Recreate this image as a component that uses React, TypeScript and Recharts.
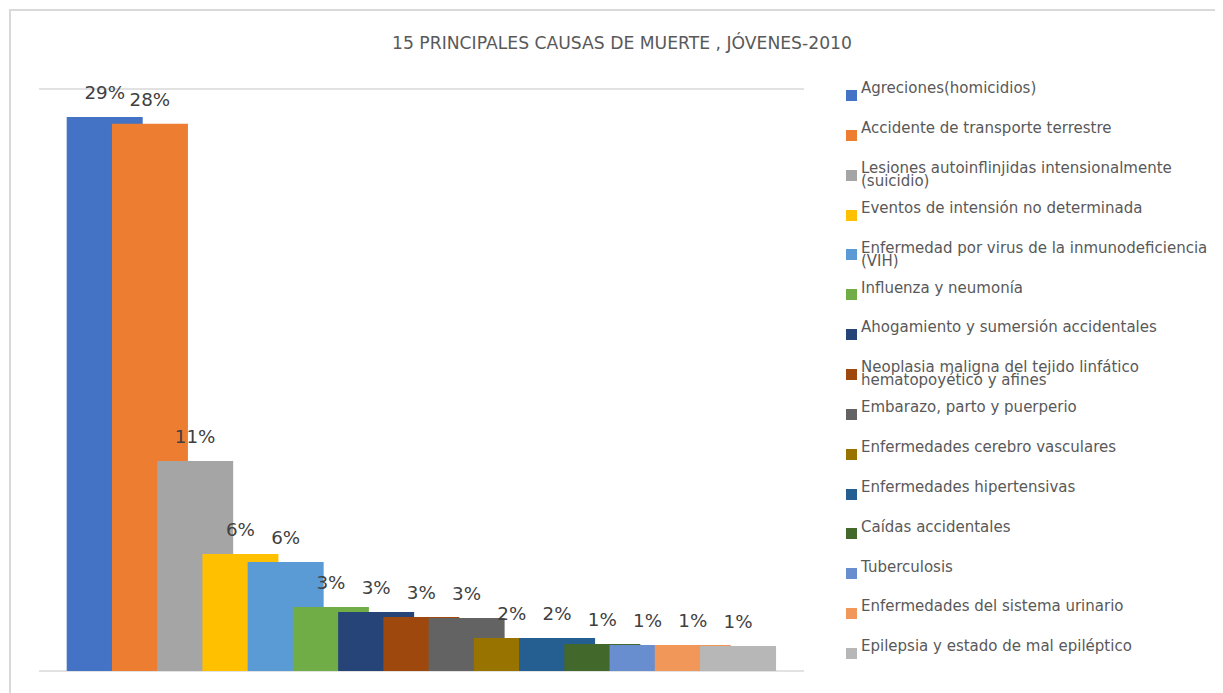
import React from 'react';
import { BarChart, Bar, XAxis, YAxis, CartesianGrid, LabelList, Legend } from 'recharts';

const causes: string[] = [
  'Agreciones(homicidios)',
  'Accidente de transporte terrestre',
  'Lesiones autoinflinjidas intensionalmente (suicidio)',
  'Eventos de intensión no determinada',
  'Enfermedad por virus de la inmunodeficiencia (VIH)',
  'Influenza y neumonía',
  'Ahogamiento y sumersión accidentales',
  'Neoplasia maligna del tejido linfático hematopoyético y afines',
  'Embarazo, parto y puerperio',
  'Enfermedades cerebro vasculares',
  'Enfermedades hipertensivas',
  'Caídas accidentales',
  'Tuberculosis',
  'Enfermedades del sistema urinario',
  'Epilepsia y estado de mal epiléptico',
];

const percentages: number[] = [28.56, 28.21, 10.82, 6.03, 5.62, 3.3, 3.04, 2.78, 2.73, 1.7, 1.7, 1.39, 1.34, 1.34, 1.29];

const colors: string[] = [
  '#4472C4', '#ED7D31', '#A5A5A5', '#FFC000', '#5B9BD5',
  '#70AD47', '#264478', '#9E480E', '#636363', '#997300',
  '#255E91', '#43682B', '#698ED0', '#F1975A', '#B7B7B7',
];

const yTicks: number[] = [0, 5, 10, 15, 20, 25, 30];
const category = '2010';
const title = '15 PRINCIPALES CAUSAS DE MUERTE , JÓVENES-2010';

const row: Record<string, number | string> = { name: category };
percentages.forEach((v, i) => {
  row['c' + i] = v;
});
const data = [row];

const FONT = '"DejaVu Sans", sans-serif';

const LegendContent = (props: any) => {
  const payload: any[] = (props.payload || []).slice();
  payload.sort((a, b) => causes.indexOf(a.value) - causes.indexOf(b.value));
  return (
    <div style={{ fontFamily: FONT, fontSize: 15, color: '#595959' }}>
      {payload.map((entry: any, i: number) => (
        <div key={i} style={{ position: 'relative', height: 39.86 }}>
          <div
            style={{
              position: 'absolute',
              left: 0,
              top: 7.7,
              width: 11,
              height: 11,
              background: entry.color,
            }}
          />
          <div
            style={{
              position: 'absolute',
              left: 15,
              top: 0,
              width: 358,
              lineHeight: '13px',
              whiteSpace: 'normal',
            }}
          >
            {entry.value}
          </div>
        </div>
      ))}
    </div>
  );
};

export default function App() {
  return (
    <div style={{ position: 'relative', width: 1215, height: 685 }}>
      <div
        style={{
          position: 'absolute',
          left: 1,
          top: 1,
          width: 1214,
          height: 690,
          borderTop: '2px solid #d9d9d9',
          borderLeft: '2px solid #d9d9d9',
          boxSizing: 'border-box',
        }}
      />
      <div
        style={{
          position: 'absolute',
          left: 0,
          top: 27.4,
          width: 1228,
          textAlign: 'center',
          fontFamily: FONT,
          fontSize: 17.2,
          lineHeight: '17.2px',
          color: '#595959',
          whiteSpace: 'nowrap',
        }}
      >
        {title}
      </div>
      <div style={{ position: 'absolute', left: 0, top: 0 }}>
        <BarChart
          width={1215}
          height={685}
          data={data}
          margin={{ top: 81, right: 419, bottom: 22, left: 31 }}
          barCategoryGap={27.7}
          barGap={-30.76}
        >
          <CartesianGrid vertical={false} stroke="#d9d9d9" strokeWidth={1.3} />
          <XAxis dataKey="name" height={0} tick={false} axisLine={false} tickLine={false} />
          <YAxis
            domain={[0, 30]}
            ticks={yTicks}
            width={0}
            tick={false}
            axisLine={false}
            tickLine={false}
          />
          <Legend
            layout="vertical"
            align="center"
            verticalAlign="middle"
            content={<LegendContent />}
            wrapperStyle={{ left: 838, top: 74.3, width: 380, height: 600 }}
          />
          {causes.map((c, i) => (
            <Bar key={c} dataKey={'c' + i} name={c} fill={colors[i]} isAnimationActive={false}>
              <LabelList
                dataKey={'c' + i}
                position="top"
                offset={18}
                fill="#404040"
                fontFamily={FONT}
                fontSize={18.3}
                formatter={(v: any) => Math.round(Number(v)) + '%'}
              />
            </Bar>
          ))}
        </BarChart>
      </div>
    </div>
  );
}
